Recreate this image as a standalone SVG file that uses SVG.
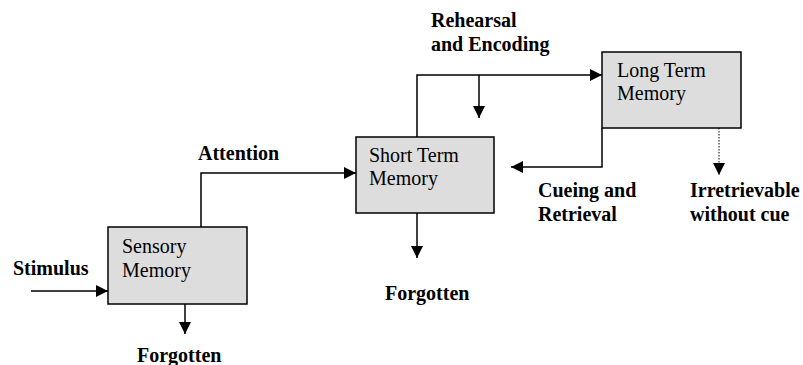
<svg xmlns="http://www.w3.org/2000/svg" width="803" height="365" viewBox="0 0 803 365">
<defs>
<style>
.box{fill:#dddddd;stroke:#000;stroke-width:1.5}
.nt{font-family:"Liberation Serif","Times New Roman",serif;font-size:20px;fill:#000}
.lb{font-family:"Liberation Serif","Times New Roman",serif;font-size:20px;font-weight:bold;fill:#000}
.ln{fill:none;stroke:#000;stroke-width:1.5}
.dot{fill:none;stroke:#000;stroke-width:1;stroke-dasharray:1.5,1.5}
</style>
<marker id="ah" viewBox="0 0 12 12" refX="12" refY="6" markerWidth="12" markerHeight="12" markerUnits="userSpaceOnUse" orient="auto">
<path d="M0,0 L12,6 L0,12 Z" fill="#000"/>
</marker>
</defs>
<rect width="803" height="365" fill="#fff"/>
<g id="connectors">
<line class="ln" x1="31" y1="291" x2="108" y2="291" marker-end="url(#ah)"/>
<line class="ln" x1="185" y1="304" x2="185" y2="334" marker-end="url(#ah)"/>
<polyline class="ln" points="201,227 201,173 356,173" marker-end="url(#ah)"/>
<line class="ln" x1="417" y1="213" x2="417" y2="258" marker-end="url(#ah)"/>
<polyline class="ln" points="417,137 417,75 602,75" marker-end="url(#ah)"/>
<line class="ln" x1="479" y1="75" x2="479" y2="118" marker-end="url(#ah)"/>
<polyline class="ln" points="602,128 602,167 511,167" marker-end="url(#ah)"/>
<line class="dot" x1="719" y1="128" x2="719" y2="175" marker-end="url(#ah)"/>
</g>
<g id="sensory">
<rect class="box" x="108" y="227" width="139" height="77"/>
<text class="nt" x="122" y="253">Sensory</text>
<text class="nt" x="122" y="277">Memory</text>
</g>
<g id="short-term">
<rect class="box" x="356" y="137" width="138" height="76"/>
<text class="nt" x="369" y="162">Short Term</text>
<text class="nt" x="369" y="185">Memory</text>
</g>
<g id="long-term">
<rect class="box" x="602" y="52" width="139" height="76"/>
<text class="nt" x="617" y="77">Long Term</text>
<text class="nt" x="617" y="100">Memory</text>
</g>
<g id="labels">
<text class="lb" x="13" y="275">Stimulus</text>
<text class="lb" x="137" y="362">Forgotten</text>
<text class="lb" x="198" y="160">Attention</text>
<text class="lb" x="385" y="300">Forgotten</text>
<text class="lb" x="431" y="27">Rehearsal</text>
<text class="lb" x="431" y="51">and Encoding</text>
<text class="lb" x="538" y="197">Cueing and</text>
<text class="lb" x="538" y="221">Retrieval</text>
<text class="lb" x="690" y="197">Irretrievable</text>
<text class="lb" x="690" y="221">without cue</text>
</g>
</svg>
